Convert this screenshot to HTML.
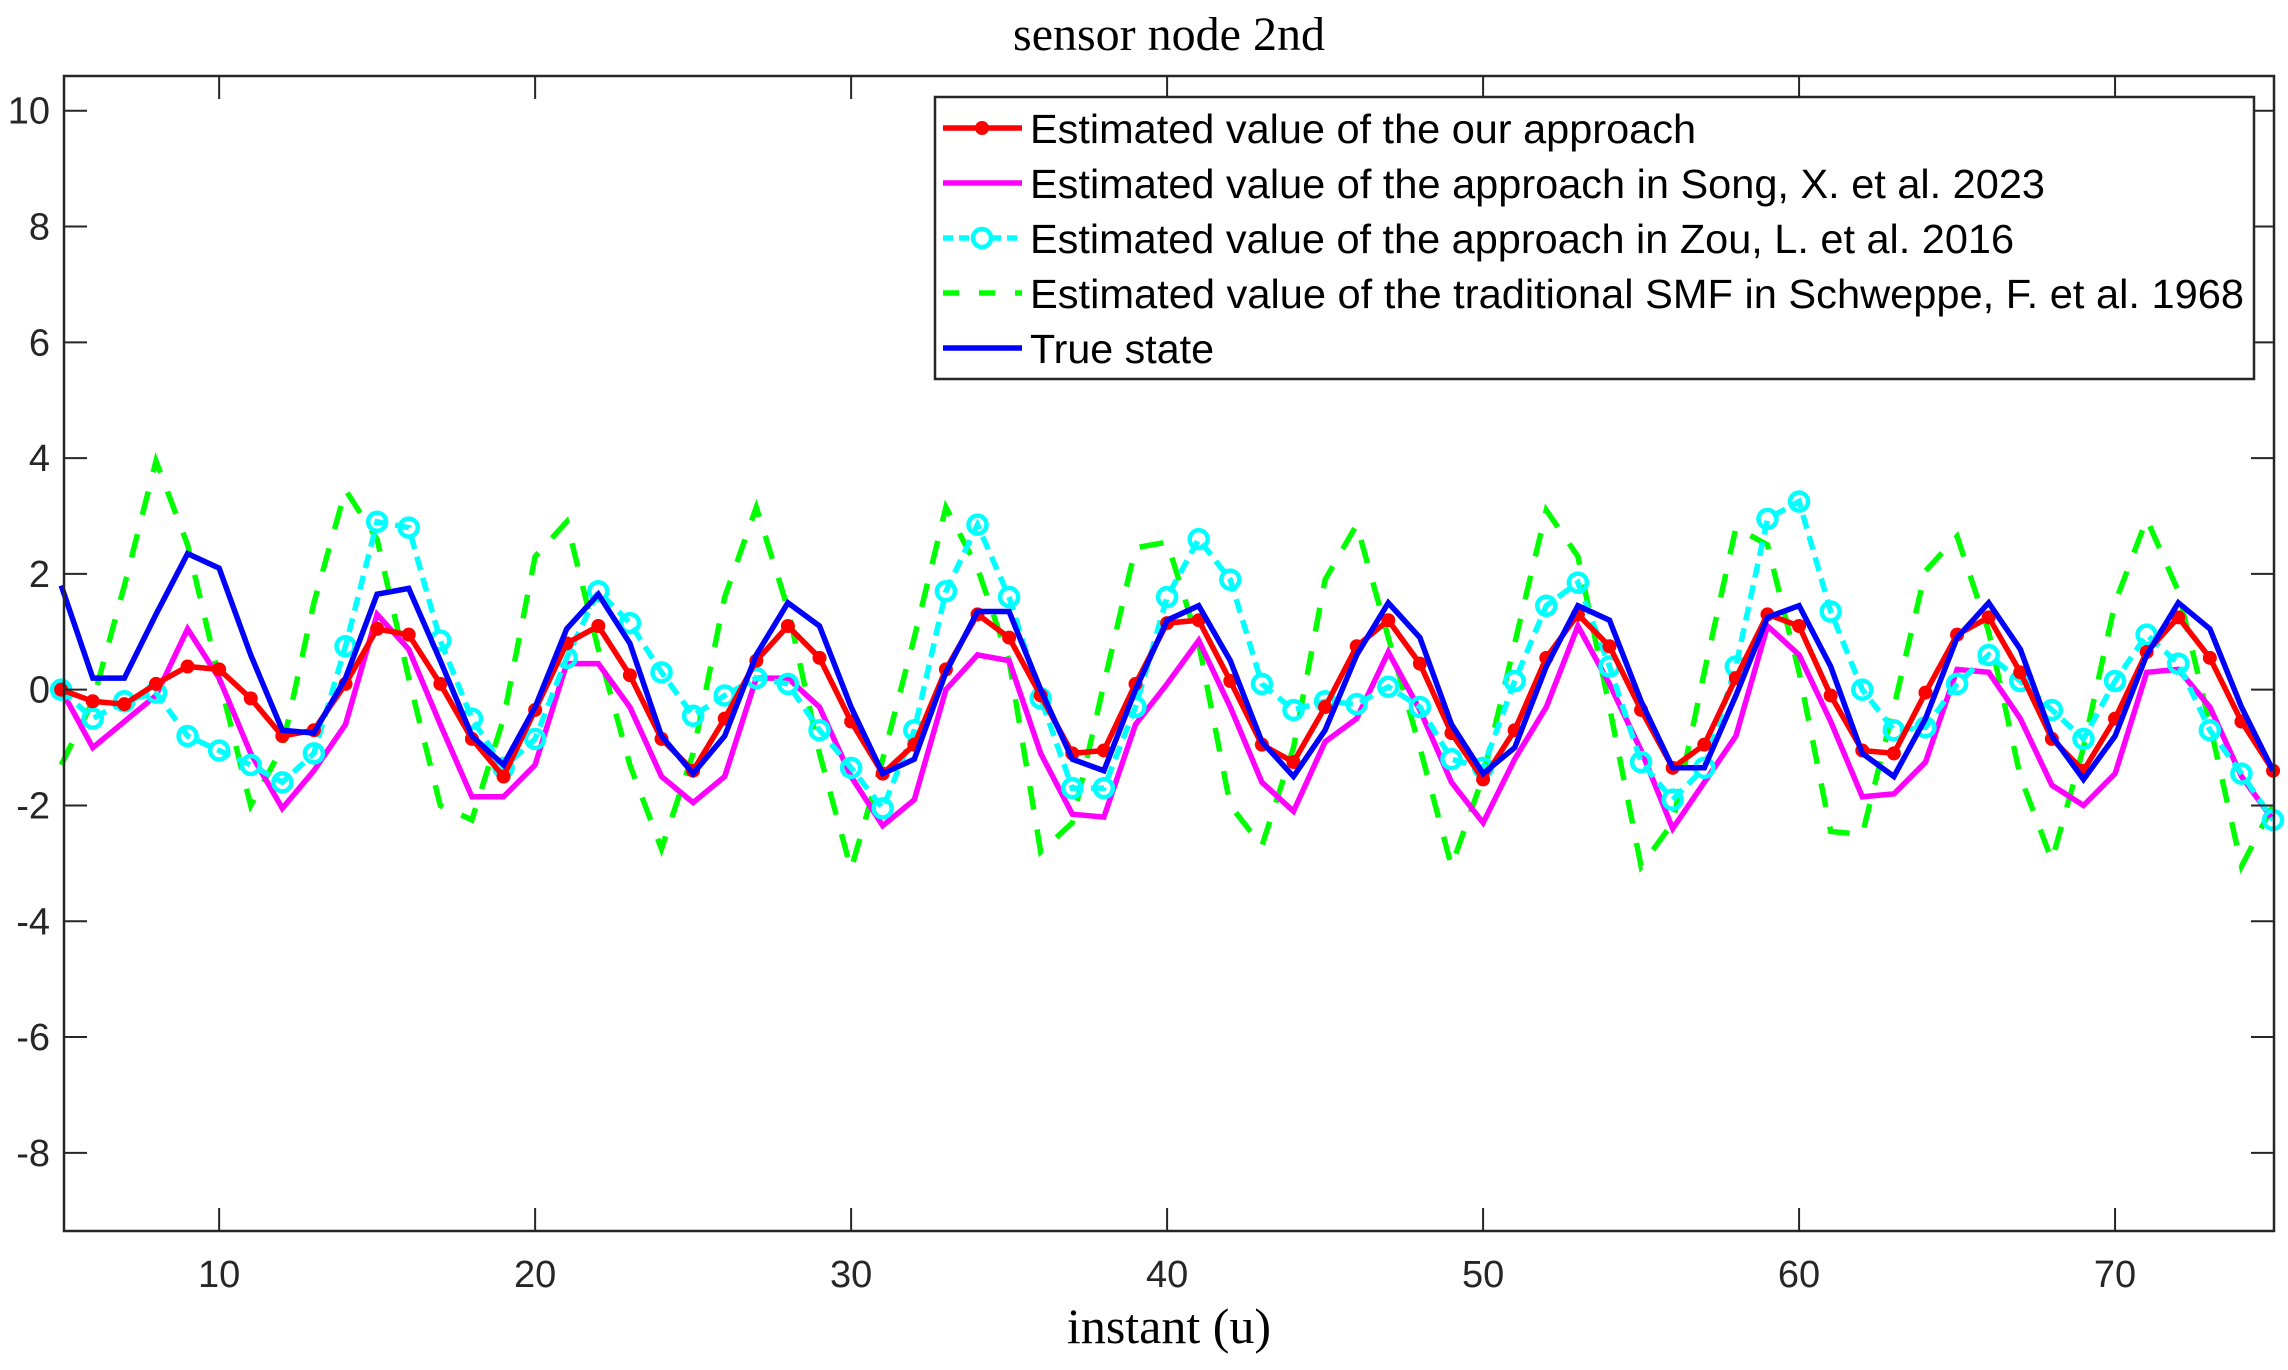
<!DOCTYPE html>
<html><head><meta charset="utf-8"><style>
html,body{margin:0;padding:0;background:#fff;}
svg{display:block;}
</style></head><body>
<svg id="chart" width="2288" height="1370" xmlns="http://www.w3.org/2000/svg">
<rect x="0" y="0" width="2288" height="1370" fill="#fff"/>
<g id="plot"></g>
<g id="axes"></g>
<g id="legend"></g>
</svg>
<script>
const xs = [];
const xStart = 5, xEnd = 75;
const trueState = [1.8,0.2,0.2,1.3,2.35,2.1,0.6,-0.7,-0.75,0.2,1.65,1.75,0.5,-0.8,-1.3,-0.3,1.05,1.65,0.8,-0.8,-1.45,-0.8,0.6,1.5,1.1,-0.3,-1.45,-1.2,0.3,1.35,1.35,0,-1.2,-1.4,0,1.2,1.45,0.5,-0.9,-1.5,-0.7,0.6,1.5,0.9,-0.6,-1.45,-1,0.4,1.45,1.2,-0.2,-1.35,-1.35,-0.1,1.25,1.45,0.4,-1.1,-1.5,-0.5,0.9,1.5,0.7,-0.8,-1.55,-0.8,0.6,1.5,1.05,-0.3,-1.4];
const ourEst = [0,-0.2,-0.25,0.1,0.4,0.35,-0.15,-0.8,-0.7,0.1,1.05,0.95,0.1,-0.85,-1.5,-0.35,0.8,1.1,0.25,-0.85,-1.4,-0.5,0.5,1.1,0.55,-0.55,-1.45,-0.95,0.35,1.3,0.9,-0.1,-1.1,-1.05,0.1,1.15,1.2,0.15,-0.95,-1.25,-0.3,0.75,1.2,0.45,-0.75,-1.55,-0.7,0.55,1.3,0.75,-0.35,-1.35,-0.95,0.2,1.3,1.1,-0.1,-1.05,-1.1,-0.05,0.95,1.25,0.3,-0.85,-1.4,-0.5,0.65,1.25,0.55,-0.55,-1.4];
const songEst = [0,-1,-0.55,-0.1,1.05,0.2,-1.1,-2.05,-1.4,-0.6,1.3,0.7,-0.6,-1.85,-1.85,-1.3,0.45,0.45,-0.3,-1.5,-1.95,-1.5,0.2,0.2,-0.3,-1.5,-2.35,-1.9,0,0.6,0.5,-1.1,-2.15,-2.2,-0.6,0.1,0.85,-0.3,-1.6,-2.1,-0.9,-0.5,0.65,-0.35,-1.6,-2.3,-1.2,-0.3,1.1,0.1,-1.05,-2.4,-1.6,-0.8,1.1,0.6,-0.55,-1.85,-1.8,-1.25,0.35,0.3,-0.5,-1.65,-2.0,-1.45,0.3,0.35,-0.3,-1.5,-2.25];
const zouEst = [0,-0.5,-0.2,-0.05,-0.8,-1.05,-1.3,-1.6,-1.1,0.75,2.9,2.8,0.85,-0.5,-1.35,-0.85,0.55,1.7,1.15,0.3,-0.45,-0.1,0.2,0.1,-0.7,-1.35,-2.05,-0.7,1.7,2.85,1.6,-0.15,-1.7,-1.7,-0.3,1.6,2.6,1.9,0.1,-0.35,-0.2,-0.25,0.05,-0.3,-1.2,-1.35,0.15,1.45,1.85,0.4,-1.25,-1.9,-1.35,0.4,2.95,3.25,1.35,0,-0.7,-0.65,0.1,0.6,0.15,-0.35,-0.85,0.15,0.95,0.45,-0.7,-1.45,-2.25];
const smfEst = [-1.3,-0.2,1.8,3.95,2.5,0.2,-2.0,-1.0,1.5,3.45,2.6,0.2,-2.0,-2.25,-0.5,2.3,2.9,0.7,-1.3,-2.75,-1.1,1.6,3.15,1.4,-1.1,-3.1,-1.2,0.9,3.15,2.1,0.5,-2.8,-2.3,0.1,2.45,2.55,0.8,-2.0,-2.7,-1.0,1.9,2.85,0.9,-1.0,-3.05,-1.5,0.8,3.1,2.3,-0.3,-3.05,-2.3,0.3,2.8,2.5,0.3,-2.45,-2.5,-0.3,2.05,2.65,1.0,-1.5,-2.95,-1.0,1.5,2.95,1.7,-0.6,-3.05,-2.0];
for (let i = xStart; i <= xEnd; i++) xs.push(i);
const xTicks = [10,20,30,40,50,60,70];
const yTicks = [-8,-6,-4,-2,0,2,4,6,8,10];
const legendLabels = ["Estimated value of the our approach","Estimated value of the approach in Song, X. et al. 2023","Estimated value of the approach in Zou, L. et al. 2016","Estimated value of the traditional SMF in Schweppe, F. et al. 1968","True state"];

const NS = "http://www.w3.org/2000/svg";
const L = 64, R = 2274, T = 76, B = 1231;
const xmin = 5.09, xmax = 75.03, ymin = -9.35, ymax = 10.6;
function sx(v){ return L + (v - xmin) / (xmax - xmin) * (R - L); }
function sy(v){ return B - (v - ymin) / (ymax - ymin) * (B - T); }
function mk(tag, attrs, parent){ const e = document.createElementNS(NS, tag); for (const k in attrs) e.setAttribute(k, attrs[k]); parent.appendChild(e); return e; }

const plot = document.getElementById('plot');
const axes = document.getElementById('axes');
const legend = document.getElementById('legend');

const series = [
  {data: smfEst, color:'#00ff00', dash:'24,20', name:'smf-line', marker:null},
  {data: songEst, color:'#ff00ff', dash:null, name:'song-line', marker:null},
  {data: zouEst, color:'#00ffff', dash:'14,8', name:'zou-line', marker:'open'},
  {data: ourEst, color:'#ff0000', dash:null, name:'our-approach-line', marker:'dot'},
  {data: trueState, color:'#0000ff', dash:null, name:'true-state-line', marker:null}
];
series.forEach(s => {
  const pts = s.data.map((v,i) => sx(xs[i]).toFixed(1) + ',' + sy(v).toFixed(1)).join(' ');
  const a = {points: pts, fill:'none', stroke:s.color, 'stroke-width':5.5, 'stroke-linejoin':'miter'};
  if (s.dash) a['stroke-dasharray'] = s.dash;
  const pl = mk('polyline', a, plot);
  
  
  if (s.marker) {
    s.data.forEach((v,i) => {
      const c = s.marker === 'dot'
        ? mk('circle', {cx:sx(xs[i]), cy:sy(v), r:7, fill:s.color}, plot)
        : mk('circle', {cx:sx(xs[i]), cy:sy(v), r:9, fill:'none', stroke:s.color, 'stroke-width':4.5}, plot);
      
      
    });
  }
});

const box = mk('rect', {x:L, y:T, width:R-L, height:B-T, fill:'none', stroke:'#262626', 'stroke-width':2.5}, axes);


const fam = '"Liberation Sans", sans-serif';
xTicks.forEach(v => {
  const x = sx(v);
  mk('line', {x1:x, y1:B, x2:x, y2:B-23, stroke:'#262626', 'stroke-width':2}, axes);
  mk('line', {x1:x, y1:T, x2:x, y2:T+23, stroke:'#262626', 'stroke-width':2}, axes);
  const t = mk('text', {x:x, y:1287, 'text-anchor':'middle', 'font-family':fam, 'font-size':38, fill:'#262626'}, axes);
  t.textContent = v;
  
  
});
yTicks.forEach(v => {
  const y = sy(v);
  mk('line', {x1:L, y1:y, x2:L+23, y2:y, stroke:'#262626', 'stroke-width':2}, axes);
  mk('line', {x1:R, y1:y, x2:R-23, y2:y, stroke:'#262626', 'stroke-width':2}, axes);
  const t = mk('text', {x:50, y:y+13, 'text-anchor':'end', 'font-family':fam, 'font-size':38, fill:'#262626'}, axes);
  t.textContent = v;
  
  
});
const title = mk('text', {x:(L+R)/2, y:50, 'text-anchor':'middle', 'font-family':'"Liberation Serif", serif', 'font-size':48, fill:'#000'}, axes);
title.textContent = 'sensor node 2nd';


const xl = mk('text', {x:(L+R)/2, y:1343, 'text-anchor':'middle', 'font-family':'"Liberation Serif", serif', 'font-size':50, fill:'#000'}, axes);
xl.textContent = 'instant (u)';



const lb = mk('rect', {x:935, y:97, width:1319, height:282, fill:'#fff', stroke:'#262626', 'stroke-width':2.5}, legend);


const legOrder = [3,1,2,0,4];
const rowY = [128,183,238,293,348];
const textEnd = [1696,2045,2014,2244,1214];
legOrder.forEach((si, k) => {
  const s = series[si];
  const y = rowY[k];
  const a = {x1:943, y1:y, x2:1022, y2:y, stroke:s.color, 'stroke-width':5.5};
  if (s.dash) a['stroke-dasharray'] = si === 0 ? '16,20' : '10,6';
  const ln = mk('line', a, legend);
  
  
  if (s.marker === 'dot') mk('circle', {cx:982, cy:y, r:7, fill:s.color}, legend);
  if (s.marker === 'open') mk('circle', {cx:982, cy:y, r:9, fill:'#fff', stroke:s.color, 'stroke-width':4.5}, legend);
  const t = mk('text', {x:1030, y:y+15, 'font-family':fam, 'font-size':41, fill:'#000', textLength:textEnd[k]-1030, lengthAdjust:'spacingAndGlyphs'}, legend);
  t.textContent = legendLabels[k];
  
  
});
</script>
</body></html>
